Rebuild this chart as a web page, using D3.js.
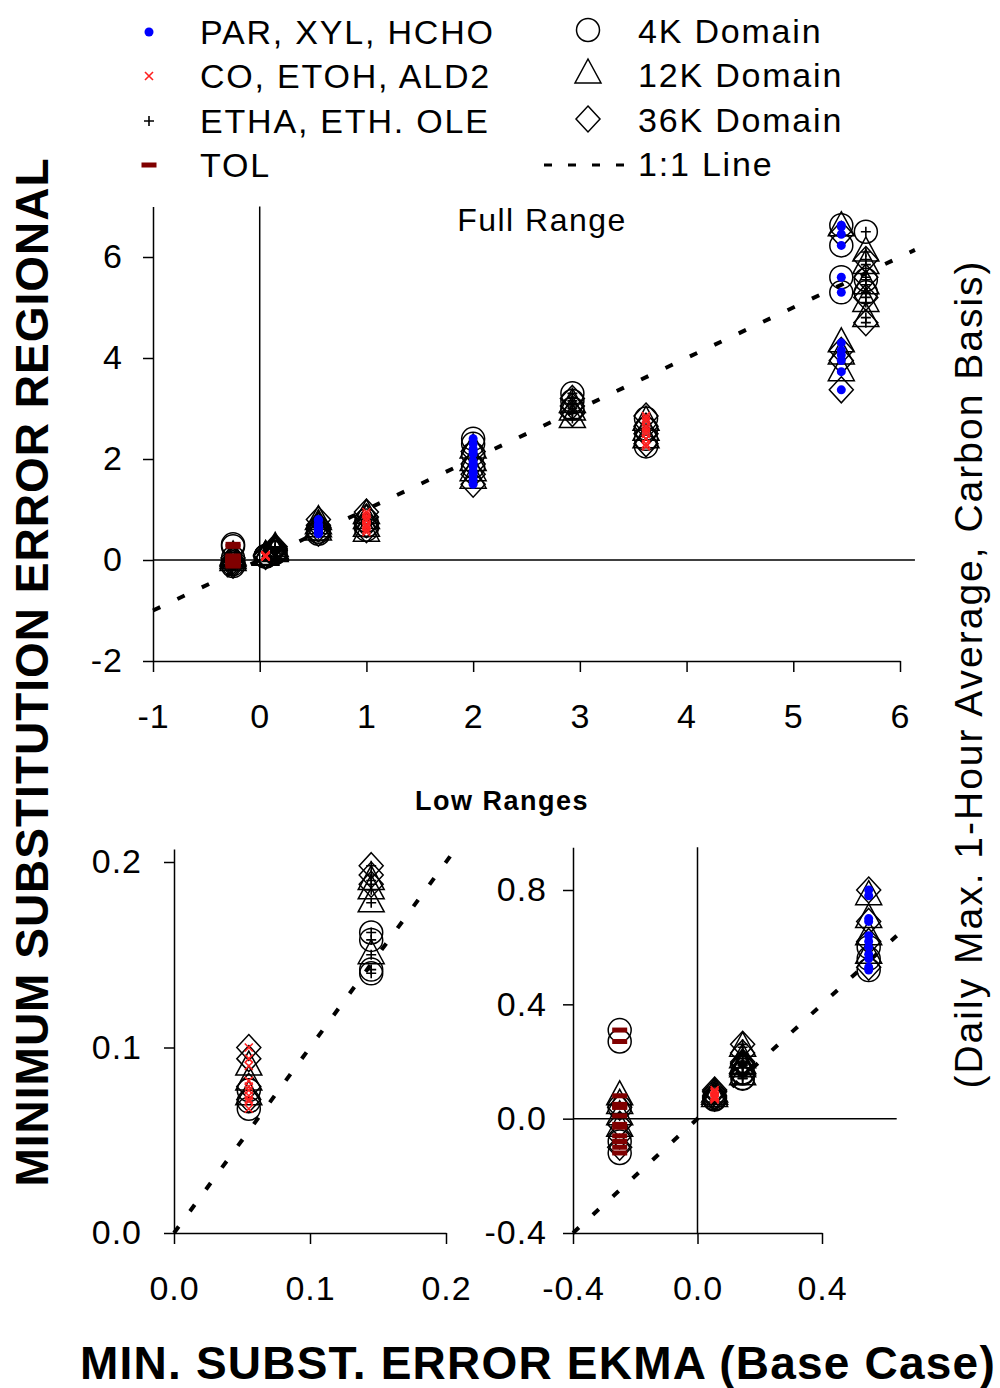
<!DOCTYPE html>
<html lang="en">
<head>
    <meta charset="UTF-8" />
    <title>Minimum substitution error - regional vs EKMA</title>
    <script src="https://d3js.org/d3.v7.min.js"></script>
    <style>
        body { margin: 0; background: #fff; }
        text { font-family: "Liberation Sans", Arial, sans-serif; fill: #000; }
    </style>
</head>

<body>
    <script>
        var w = 1000;
        var h = 1388;

        // legend names
        var speciesNames = ["PAR, XYL, HCHO", "CO, ETOH, ALD2", "ETHA, ETH. OLE", "TOL"];
        var domainNames = ["4K Domain", "12K Domain", "36K Domain"];

        // EKMA (base case) min. substitution error, and the species group of each
        var ekma = [-0.25, 0.055, 0.145, 0.55, 1.0, 2.0, 2.93, 3.62, 5.45, 5.68];
        var ekmaSpecies = [3, 1, 2, 0, 1, 0, 2, 1, 0, 2];

        // regional min. substitution error, one list for each EKMA value above
        var regional4K = [
            [0.31, 0.27, 0.04, -0.08, -0.12],
            [0.077, 0.071, 0.067],
            [0.162, 0.158, 0.142, 0.14],
            [0.6, 0.56, 0.52],
            [0.78, 0.68, 0.6],
            [2.4, 2.3, 2.1, 1.85],
            [3.3, 3.15, 3.0],
            [2.8, 2.6, 2.4, 2.25],
            [6.63, 6.23, 5.6, 5.3],
            [6.5, 5.55, 5.3]
        ];
        var regional12K = [
            [0.08, 0.05, 0.01, -0.03],
            [0.09, 0.082, 0.074],
            [0.25, 0.21, 0.19, 0.185, 0.178, 0.15],
            [0.78, 0.7, 0.64, 0.575],
            [0.9, 0.8, 0.65, 0.55],
            [2.2, 1.95, 1.75, 1.6],
            [3.1, 2.95, 2.8],
            [2.75, 2.55, 2.4],
            [6.6, 4.3, 4.06, 3.73],
            [6.1, 5.85, 5.45, 5.1, 4.8]
        ];
        var regional36K = [
            [0.04, -0.02, -0.06, -0.1],
            [0.1, 0.094, 0.079, 0.072],
            [0.26, 0.23, 0.198, 0.193, 0.188],
            [0.8, 0.69, 0.62, 0.53],
            [0.95, 0.85, 0.7, 0.6],
            [2.15, 1.9, 1.7, 1.5],
            [3.2, 3.05, 2.9],
            [2.85, 2.65, 2.5, 2.3],
            [6.45, 4.15, 3.95, 3.37],
            [5.95, 5.6, 5.2, 4.7]
        ];

        // tick labels of the three panels
        var topXTicks = [-1, 0, 1, 2, 3, 4, 5, 6];
        var topYTicks = [-2, 0, 2, 4, 6];
        var lowLeftTicks = [0, 0.1, 0.2];
        var lowRightXTicks = [-0.4, 0, 0.4];
        var lowRightYTicks = [-0.4, 0, 0.4, 0.8];

        // flatten into points
        var points = [];
        [regional4K, regional12K, regional36K].forEach(function(lists, dom) {
            lists.forEach(function(vals, i) {
                vals.forEach(function(v) {
                    points.push({ x: ekma[i], y: v, sp: ekmaSpecies[i], dom: dom });
                });
            });
        });

        var svg = d3.select("body")
            .append("svg")
            .attr("width", w)
            .attr("height", h);

        // plain hyphen instead of the unicode minus d3 uses
        function fmt(spec) {
            var f = d3.format(spec);
            return function(d) { return f(d).replace("\u2212", "-"); };
        }

        // marker drawing
        var domainPath = [
            null,
            "M0,-15L13,9L-13,9Z",
            "M0,-13L12,0L0,13L-12,0Z"
        ];

        function drawDomain(g, dom) {
            if (dom === 0) {
                g.append("circle").attr("r", 11.5)
                    .attr("fill", "none").attr("stroke", "#000").attr("stroke-width", 1.5);
            } else {
                g.append("path").attr("d", domainPath[dom])
                    .attr("fill", "none").attr("stroke", "#000").attr("stroke-width", 1.5);
            }
        }

        function drawSpecies(g, sp) {
            if (sp === 0) {
                g.append("circle").attr("r", 4.5).attr("fill", "#0000ff");
            } else if (sp === 1) {
                g.append("path").attr("d", "M-4,-4L4,4M-4,4L4,-4")
                    .attr("stroke", "#ff2020").attr("stroke-width", 1.6);
            } else if (sp === 2) {
                g.append("path").attr("d", "M-5,0H5M0,-5V5")
                    .attr("stroke", "#000").attr("stroke-width", 1.6);
            } else {
                g.append("rect").attr("x", -7.5).attr("y", -2.5)
                    .attr("width", 15).attr("height", 5).attr("fill", "#800000");
            }
        }

        // panels
        function panel(opt) {
            var x = d3.scaleLinear().domain(opt.xd).range(opt.xr);
            var y0 = d3.scaleLinear().domain(opt.yd).range(opt.yr);
            var y = y0.copy().domain([opt.yd[0], opt.yMax]).range([y0(opt.yd[0]), y0(opt.yMax)]);
            var g = svg.append("g");

            // axes
            var xAxis = d3.axisBottom(x).tickValues(opt.xTicks).tickFormat(opt.fmt)
                .tickSize(11).tickSizeOuter(0).tickPadding(32);
            var yAxis = d3.axisLeft(y).tickValues(opt.yTicks).tickFormat(opt.fmt)
                .tickSize(10).tickSizeOuter(0).tickPadding(opt.yPad);

            g.append("g").attr("transform", "translate(0," + y(opt.yd[0]) + ")").call(xAxis);
            g.append("g").attr("transform", "translate(" + x(opt.xd[0]) + ",0)").call(yAxis);
            g.selectAll(".domain, .tick line").attr("stroke", "#000").attr("stroke-width", 1.5);
            g.selectAll(".tick text").attr("font-size", 34).attr("letter-spacing", 1)
                .attr("font-family", "Liberation Sans, Arial, sans-serif").attr("fill", "#000");

            // zero lines
            if (opt.zero) {
                g.append("line").attr("x1", x(0)).attr("x2", x(0))
                    .attr("y1", y(opt.yd[0])).attr("y2", y(opt.yMax))
                    .attr("stroke", "#000").attr("stroke-width", 1.5);
                g.append("line").attr("x1", x(opt.xd[0])).attr("x2", x(opt.xMax))
                    .attr("y1", y(0)).attr("y2", y(0))
                    .attr("stroke", "#000").attr("stroke-width", 1.5);
            }

            // 1:1 line
            var lo = Math.max(opt.xd[0], opt.yd[0]);
            var hi = Math.min(opt.xMax, opt.yMax);
            g.append("line")
                .attr("x1", x(lo)).attr("y1", y(lo))
                .attr("x2", x(hi)).attr("y2", y(hi))
                .attr("stroke", "#000").attr("stroke-width", 4)
                .attr("stroke-dasharray", "8,19");

            var inside = points.filter(function(d) {
                return d.x >= opt.xd[0] && d.x <= opt.xMax && d.y >= opt.yd[0] && d.y <= opt.yMax;
            });

            g.selectAll(".dom")
                .data(inside)
                .enter()
                .append("g")
                .attr("class", "dom")
                .attr("transform", function(d) { return "translate(" + x(d.x) + "," + y(d.y) + ")"; })
                .each(function(d) { drawDomain(d3.select(this), d.dom); });

            g.selectAll(".sp")
                .data(inside)
                .enter()
                .append("g")
                .attr("class", "sp")
                .attr("transform", function(d) { return "translate(" + x(d.x) + "," + y(d.y) + ")"; })
                .each(function(d) { drawSpecies(d3.select(this), d.sp); });
        }

        panel({
            xd: [-1, 6], xr: [153, 900], xMax: 6.14,
            yd: [-2, 6], yr: [661, 257], yMax: 7,
            xTicks: topXTicks, yTicks: topYTicks, fmt: fmt("d"),
            yPad: 20, zero: true
        });
        panel({
            xd: [0, 0.2], xr: [174, 446], xMax: 0.21,
            yd: [0, 0.2], yr: [1233, 862], yMax: 0.207,
            xTicks: lowLeftTicks, yTicks: lowLeftTicks, fmt: fmt(".1f"),
            yPad: 22, zero: false
        });
        panel({
            xd: [-0.4, 0.4], xr: [573, 822], xMax: 0.64,
            yd: [-0.4, 0.8], yr: [1233, 890], yMax: 0.95,
            xTicks: lowRightXTicks, yTicks: lowRightYTicks, fmt: fmt(".1f"),
            yPad: 16, zero: true
        });

        // panel titles
        svg.append("text").attr("x", 542).attr("y", 231).attr("text-anchor", "middle")
            .attr("font-size", 32).attr("letter-spacing", 1.5).text("Full Range");
        svg.append("text").attr("x", 502).attr("y", 810).attr("text-anchor", "middle")
            .attr("font-size", 27).attr("font-weight", "bold").attr("letter-spacing", 1.5)
            .text("Low Ranges");

        // axis titles
        svg.append("text")
            .attr("transform", "translate(48,672) rotate(-90)")
            .attr("text-anchor", "middle").attr("font-size", 46).attr("font-weight", "bold")
            .attr("letter-spacing", 1)
            .text("MINIMUM SUBSTITUTION ERROR REGIONAL");
        svg.append("text")
            .attr("transform", "translate(982,674) rotate(-90)")
            .attr("text-anchor", "middle").attr("font-size", 39).attr("letter-spacing", 2)
            .text("(Daily Max. 1-Hour Average, Carbon Basis)");
        svg.append("text")
            .attr("x", 538).attr("y", 1379).attr("text-anchor", "middle")
            .attr("font-size", 46).attr("font-weight", "bold").attr("letter-spacing", 1.2)
            .text("MIN. SUBST. ERROR EKMA (Base Case)");

        // legend - species
        var legY = [32, 76, 121, 165];
        speciesNames.forEach(function(name, i) {
            var m = svg.append("g").attr("transform", "translate(149," + legY[i] + ")");
            drawSpecies(m, i);
            svg.append("text").attr("x", 200).attr("y", legY[i] + 12)
                .attr("font-size", 34).attr("letter-spacing", 1.8).text(name);
        });

        // legend - domains
        domainNames.forEach(function(name, i) {
            var m = svg.append("g").attr("transform", "translate(588," + (legY[i] - 2) + ")");
            drawDomain(m, i);
            svg.append("text").attr("x", 638).attr("y", legY[i] + 11)
                .attr("font-size", 34).attr("letter-spacing", 1.8).text(name);
        });
        svg.append("line").attr("x1", 544).attr("x2", 628)
            .attr("y1", legY[3]).attr("y2", legY[3])
            .attr("stroke", "#000").attr("stroke-width", 3)
            .attr("stroke-dasharray", "8,16");
        svg.append("text").attr("x", 638).attr("y", legY[3] + 11)
            .attr("font-size", 34).attr("letter-spacing", 1.8).text("1:1 Line");
    </script>
</body>
</html>
